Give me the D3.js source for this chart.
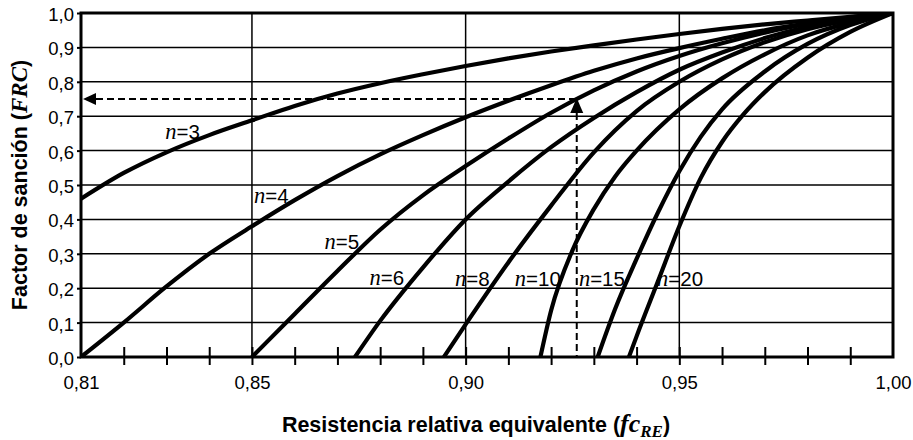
<!DOCTYPE html>
<html><head><meta charset="utf-8">
<script src="https://cdn.jsdelivr.net/npm/d3@7"></script>
<style>body{margin:0;background:#fff}</style>
</head><body>
<svg id="c" width="913" height="440"></svg>
<script>
// ---- data ----
const nValues = [3, 4, 5, 6, 8, 10, 15, 20];
const curveN3 = [[0.81,0.46],[0.82,0.535],[0.83,0.595],[0.84,0.645],[0.85,0.688],[0.86,0.73],[0.87,0.766],[0.88,0.796],[0.89,0.822],[0.90,0.846],[0.91,0.868],[0.92,0.888],[0.93,0.906],[0.94,0.923],[0.95,0.939],[0.96,0.954],[0.97,0.967],[0.98,0.978],[0.99,0.989],[1.00,1.0]];
const curveN4 = [[0.81,0],[0.82,0.10],[0.83,0.205],[0.84,0.30],[0.85,0.38],[0.86,0.456],[0.87,0.526],[0.88,0.589],[0.89,0.645],[0.90,0.697],[0.91,0.745],[0.92,0.79],[0.93,0.832],[0.94,0.868],[0.95,0.898],[0.96,0.925],[0.97,0.95],[0.98,0.97],[0.99,0.987],[1.00,1.0]];
const curveN5 = [[0.85,0],[0.86,0.125],[0.87,0.25],[0.88,0.37],[0.89,0.47],[0.90,0.555],[0.91,0.635],[0.92,0.71],[0.93,0.775],[0.94,0.83],[0.95,0.875],[0.96,0.912],[0.97,0.943],[0.98,0.968],[0.99,0.986],[1.00,1.0]];
const curveN6 = [[0.8741,0],[0.88,0.105],[0.89,0.26],[0.90,0.40],[0.91,0.51],[0.92,0.61],[0.93,0.695],[0.94,0.77],[0.95,0.835],[0.96,0.885],[0.97,0.927],[0.98,0.96],[0.99,0.984],[1.00,1.0]];
const curveN8 = [[0.8949,0],[0.90,0.095],[0.91,0.275],[0.92,0.44],[0.93,0.595],[0.94,0.715],[0.95,0.80],[0.96,0.865],[0.97,0.915],[0.98,0.953],[0.99,0.98],[1.00,1.0]];
const curveN10 = [[0.9175,0],[0.92,0.135],[0.925,0.31],[0.93,0.43],[0.935,0.525],[0.94,0.60],[0.95,0.72],[0.96,0.81],[0.97,0.88],[0.98,0.935],[0.99,0.972],[1.00,1.0]];
const curveN15 = [[0.9309,0],[0.935,0.14],[0.94,0.285],[0.945,0.42],[0.95,0.54],[0.955,0.64],[0.96,0.72],[0.97,0.83],[0.98,0.91],[0.99,0.965],[1.00,1.0]];
const curveN20 = [[0.9382,0],[0.94,0.06],[0.945,0.22],[0.95,0.38],[0.955,0.52],[0.96,0.625],[0.965,0.705],[0.97,0.77],[0.98,0.87],[0.99,0.945],[1.00,1.0]];
const curves = [curveN3, curveN4, curveN5, curveN6, curveN8, curveN10, curveN15, curveN20];
// label anchors (data units)
const labelFc  = [0.8297, 0.8505, 0.8670, 0.8775, 0.8975, 0.9115, 0.9265, 0.9448];
const labelFrc = [0.635, 0.449, 0.314, 0.208, 0.205, 0.205, 0.205, 0.205];
// worked example (dashed arrows)
const exampleFc = 0.926, exampleFrc = 0.75;
// ticks
const xTickValues = [0.81, 0.85, 0.90, 0.95, 1.00];
const xTickLabels = ["0,81", "0,85", "0,90", "0,95", "1,00"];
const xGridValues = [0.85, 0.90, 0.95];
const xMinorValues = [0.82,0.83,0.84,0.85,0.86,0.87,0.88,0.89,0.90,0.91,0.92,0.93,0.94,0.95,0.96,0.97,0.98,0.99];
const yTickValues = [0,0.1,0.2,0.3,0.4,0.5,0.6,0.7,0.8,0.9,1.0];
const yTickLabels = ["0,0","0,1","0,2","0,3","0,4","0,5","0,6","0,7","0,8","0,9","1,0"];

// ---- layout ----
const L = 81, R = 893, T = 13, B = 357;
const sans = "'Liberation Sans', Arial, sans-serif";
const serif = "'Liberation Serif', 'Times New Roman', serif";
const svg = d3.select("#c");
svg.append("rect").attr("width", 913).attr("height", 440).attr("fill", "#fff");

const x = d3.scaleLinear().domain([0.81, 1.0]).range([L, R]);
const y = d3.scaleLinear().domain([0, 1]).range([B, T]);

// gridlines
const grid = svg.append("g").attr("stroke", "#000").attr("stroke-width", 1.5);
grid.selectAll("line.h").data(yTickValues.slice(1, -1)).join("line")
  .attr("x1", L).attr("x2", R).attr("y1", d => y(d)).attr("y2", d => y(d));
grid.selectAll("line.v").data(xGridValues).join("line")
  .attr("y1", T).attr("y2", B).attr("x1", d => x(d)).attr("x2", d => x(d));

// minor x ticks crossing the axis
function styleAxis(g) {
  g.select(".domain").remove();
  g.selectAll(".tick line").attr("stroke", "#000").attr("stroke-width", 2);
}
svg.append("g").attr("transform", `translate(0,${B})`)
  .call(d3.axisBottom(x).tickValues(xMinorValues).tickSize(8).tickFormat(""))
  .call(styleAxis);
svg.append("g").attr("transform", `translate(0,${B})`)
  .call(d3.axisTop(x).tickValues(xMinorValues).tickSize(10).tickFormat(""))
  .call(styleAxis);
// x tick labels
svg.append("g").attr("transform", `translate(0,${B})`)
  .call(d3.axisBottom(x).tickValues(xTickValues).tickFormat((d, i) => xTickLabels[i]).tickSize(0).tickPadding(19))
  .call(g => g.select(".domain").remove())
  .call(g => g.selectAll("text").attr("font-family", sans).attr("font-size", 18.5).attr("fill", "#000"));
// y axis
svg.append("g").attr("transform", `translate(${L},0)`)
  .call(d3.axisLeft(y).tickValues(yTickValues).tickFormat((d, i) => yTickLabels[i]).tickSize(4).tickPadding(3))
  .call(styleAxis)
  .call(g => g.selectAll("text").attr("font-family", sans).attr("font-size", 18.5).attr("fill", "#000").attr("dy", "0.4em"));

// dashed example lines
const ax = x(exampleFc), ay = y(exampleFrc);
const dash = svg.append("g").attr("stroke", "#000").attr("stroke-width", 2).attr("stroke-dasharray", "7,4").attr("fill", "none");
dash.append("line").attr("x1", L + 15).attr("x2", ax).attr("y1", ay).attr("y2", ay);
dash.append("line").attr("x1", ax).attr("x2", ax).attr("y1", ay + 14).attr("y2", B);
svg.append("path").attr("fill", "#000")
  .attr("d", `M${L + 2},${ay} L${L + 15},${ay - 6} L${L + 15},${ay + 6} Z`);
svg.append("path").attr("fill", "#000")
  .attr("d", `M${ax},${ay - 1} L${ax - 6.5},${ay + 14} L${ax + 6.5},${ay + 14} Z`);

// curves
svg.append("clipPath").attr("id", "plot").append("rect")
  .attr("x", L).attr("y", T).attr("width", R - L).attr("height", B - T);
const line = d3.line().x(d => x(d[0])).y(d => y(d[1])).curve(d3.curveMonotoneX);
svg.append("g").attr("clip-path", "url(#plot)")
  .selectAll("path").data(curves).join("path")
  .attr("d", line).attr("fill", "none").attr("stroke", "#000")
  .attr("stroke-width", 4.2).attr("stroke-linejoin", "round");

// frame
svg.append("rect").attr("x", L).attr("y", T).attr("width", R - L).attr("height", B - T)
  .attr("fill", "none").attr("stroke", "#000").attr("stroke-width", 3);

// curve labels
const lab = svg.append("g").attr("fill", "#000");
nValues.forEach((n, i) => {
  const t = lab.append("text").attr("x", x(labelFc[i])).attr("y", y(labelFrc[i]));
  t.append("tspan").attr("font-family", serif).attr("font-style", "italic").attr("font-size", 22.5).text("n");
  t.append("tspan").attr("font-family", sans).attr("font-size", 20.5).text("=" + n);
});

// axis titles
const xt = svg.append("text").attr("x", 476).attr("y", 432).attr("text-anchor", "middle")
  .attr("font-family", sans).attr("font-weight", "bold").attr("font-size", 21.5).attr("fill", "#000");
xt.append("tspan").text("Resistencia relativa equivalente (");
xt.append("tspan").attr("font-family", serif).attr("font-style", "italic").attr("font-size", 26).text("fc");
xt.append("tspan").attr("font-family", serif).attr("font-style", "italic").attr("font-size", 17).attr("dy", 5).text("RE");
xt.append("tspan").attr("dy", -5).text(")");

const yt = svg.append("text").attr("transform", `translate(27,${(T + B) / 2}) rotate(-90)`).attr("text-anchor", "middle")
  .attr("font-family", sans).attr("font-weight", "bold").attr("font-size", 21.5).attr("fill", "#000");
yt.append("tspan").text("Factor de sanción (");
yt.append("tspan").attr("font-family", serif).attr("font-style", "italic").attr("font-size", 23).text("FRC");
yt.append("tspan").text(")");
</script>
</body></html>
